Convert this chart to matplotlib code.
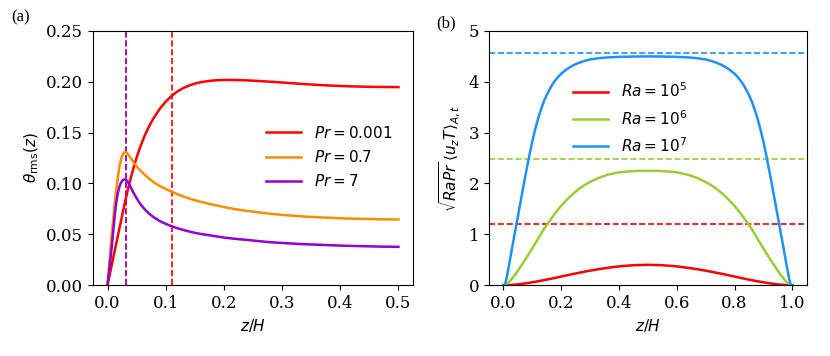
import matplotlib
matplotlib.use("Agg")
import matplotlib.pyplot as plt

# (a) theta_rms(z) for three Prandtl numbers
z_red = [0, .005, .01, .015, .02, .025, .03, .035, .04, .045, .05, .055, .06,
         .065, .07, .075, .08, .09, .10, .11, .12, .13, .14, .15, .16, .17,
         .18, .19, .20, .22, .24, .26, .28, .30, .32, .34, .36, .38, .40, .42,
         .44, .46, .48, .50]
th_pr0001 = [0, 0.0137, 0.0274, 0.041, 0.0545, 0.068, 0.0815, 0.094, 0.1055,
             0.116, 0.1255, 0.134, 0.1415, 0.1485, 0.1545, 0.16, 0.165, 0.1735,
             0.1805, 0.186, 0.1905, 0.1938, 0.1963, 0.1982, 0.1996, 0.2005,
             0.2012, 0.2016, 0.2018, 0.2018, 0.2014, 0.2008, 0.2001, 0.1993,
             0.1985, 0.1977, 0.197, 0.1964, 0.1959, 0.1955, 0.1952, 0.195,
             0.1949, 0.1948]

z_pk = [0, .0025, .005, .0075, .01, .0125, .015, .0175, .02, .0225, .025,
        .0275, .03, .0325, .035, .0375, .04, .045, .05, .055, .06, .065, .07,
        .08, .09, .10, .11, .12, .13, .14, .15, .16, .18, .20, .22, .24, .26,
        .28, .30, .33, .36, .40, .44, .47, .50]
th_pr07 = [0, 0.018, 0.035, 0.051, 0.066, 0.081, 0.094, 0.105, 0.115, 0.122,
           0.127, 0.130, 0.131, 0.1305, 0.129, 0.127, 0.125, 0.1205, 0.1167,
           0.1135, 0.111, 0.108, 0.1055, 0.101, 0.0975, 0.0945, 0.092, 0.0895,
           0.0873, 0.0853, 0.0836, 0.082, 0.0793, 0.0768, 0.0747, 0.073,
           0.0715, 0.0702, 0.0691, 0.0678, 0.0668, 0.0658, 0.0651, 0.0648,
           0.0646]
th_pr7 = [0, 0.012, 0.025, 0.039, 0.054, 0.069, 0.081, 0.09, 0.096, 0.1,
          0.1025, 0.1038, 0.104, 0.1032, 0.1015, 0.099, 0.0962, 0.0905, 0.0855,
          0.081, 0.0772, 0.074, 0.071, 0.0665, 0.063, 0.0603, 0.058, 0.056,
          0.0543, 0.0528, 0.0515, 0.0504, 0.0486, 0.0468, 0.0455, 0.0445,
          0.0433, 0.0422, 0.0415, 0.0405, 0.0398, 0.0389, 0.0383, 0.0379,
          0.0377]

# boundary layer thicknesses (vertical dashed)
delta_pr0001 = 0.11
delta_pr07 = 0.032
delta_pr7 = 0.031

# (b) convective flux profiles
z_b = [0, 0.005, 0.01, 0.015, 0.02, 0.03, 0.04, 0.05, 0.06, 0.07, 0.08, 0.09,
       0.10, 0.11, 0.12, 0.13, 0.14, 0.15, 0.16, 0.17, 0.18, 0.19, 0.20, 0.22,
       0.24, 0.26, 0.28, 0.30, 0.33, 0.36, 0.40, 0.45, 0.50,
       0.55, 0.60, 0.64, 0.67, 0.70, 0.72, 0.74, 0.76, 0.78, 0.80, 0.81, 0.82,
       0.83, 0.84, 0.85, 0.86, 0.87, 0.88, 0.89, 0.90, 0.91, 0.92, 0.93, 0.94,
       0.95, 0.96, 0.97, 0.98, 0.985, 0.99, 0.995, 1.0]
flux_ra5 = [0, 0, 0.001, 0.002, 0.003, 0.006, 0.01, 0.015, 0.022, 0.03, 0.038,
            0.047, 0.056, 0.066, 0.076, 0.087, 0.098, 0.109, 0.12, 0.132,
            0.145, 0.157, 0.17, 0.194, 0.218, 0.241, 0.264, 0.285, 0.315, 0.34,
            0.37, 0.392, 0.40,
            0.392, 0.37, 0.34, 0.315, 0.285, 0.264, 0.241, 0.218, 0.194, 0.17,
            0.157, 0.145, 0.132, 0.12, 0.109, 0.098, 0.087, 0.076, 0.066,
            0.056, 0.047, 0.038, 0.03, 0.022, 0.015, 0.01, 0.006, 0.003, 0.002,
            0.001, 0, 0]
flux_ra6 = [0, 0, 0.02, 0.04, 0.06, 0.13, 0.20, 0.28, 0.37, 0.45, 0.54, 0.63,
            0.72, 0.815, 0.91, 1.005, 1.10, 1.18, 1.26, 1.34, 1.42, 1.49, 1.56,
            1.68, 1.79, 1.885, 1.965, 2.03, 2.11, 2.17, 2.22, 2.245, 2.25,
            2.245, 2.22, 2.17, 2.11, 2.03, 1.965, 1.885, 1.79, 1.68, 1.56,
            1.49, 1.42, 1.34, 1.26, 1.18, 1.10, 1.005, 0.91, 0.815, 0.72, 0.63,
            0.54, 0.45, 0.37, 0.28, 0.20, 0.13, 0.06, 0.04, 0.02, 0, 0]
flux_ra7 = [0, 0, 0.1, 0.25, 0.4, 0.72, 1.03, 1.34, 1.65, 1.96, 2.26, 2.55,
            2.82, 3.06, 3.27, 3.45, 3.61, 3.74, 3.85, 3.95, 4.03, 4.10, 4.16,
            4.25, 4.32, 4.37, 4.41, 4.44, 4.465, 4.48, 4.49, 4.497, 4.50,
            4.497, 4.49, 4.48, 4.465, 4.44, 4.41, 4.37, 4.32, 4.25, 4.16, 4.10,
            4.03, 3.95, 3.85, 3.74, 3.61, 3.45, 3.27, 3.06, 2.82, 2.55, 2.26,
            1.96, 1.65, 1.34, 1.03, 0.72, 0.4, 0.25, 0.1, 0, 0]

# Nu values (horizontal dashed)
nu_ra5 = 1.21
nu_ra6 = 2.48
nu_ra7 = 4.57

c_red = "#ff0000"
c_orange = "#ff8c00"
c_purple = "#9400d3"
c_green = "#9acd32"
c_blue = "#1e90ff"

plt.rcParams["font.family"] = ["DejaVu Serif"]
plt.rcParams["mathtext.fontset"] = "dejavusans"
plt.rcParams["font.size"] = 11
plt.rcParams["xtick.labelsize"] = 12
plt.rcParams["ytick.labelsize"] = 12

fig = plt.figure(figsize=(8.3, 3.56), dpi=100)
ax1 = fig.add_axes([0.112, 0.199, 0.3856, 0.714])
ax2 = fig.add_axes([0.589, 0.199, 0.383, 0.714])

lw = 1.8
ax1.axvline(delta_pr0001, color=c_red, ls="--", lw=1.2)
ax1.axvline(delta_pr07, color=c_orange, ls="--", lw=1.2)
ax1.axvline(delta_pr7, color=c_purple, ls="--", lw=1.2)
ax1.plot(z_red, th_pr0001, color=c_red, lw=lw, label=r"$Pr = 0.001$")
ax1.plot(z_pk, th_pr07, color=c_orange, lw=lw, label=r"$Pr = 0.7$")
ax1.plot(z_pk, th_pr7, color=c_purple, lw=lw, label=r"$Pr = 7$")
ax1.set_xlim(-0.025, 0.525)
ax1.set_ylim(0, 0.25)
ax1.set_xticks([0, 0.1, 0.2, 0.3, 0.4, 0.5])
ax1.set_yticks([0, 0.05, 0.10, 0.15, 0.20, 0.25])
ax1.set_xlabel(r"$z/H$")
ax1.set_ylabel(r"$\theta_{\rm rms}(z)$")
ax1.legend(loc="center left", bbox_to_anchor=(0.54, 0.504), frameon=False,
           borderaxespad=0, borderpad=0, handlelength=2.3,
           handletextpad=0.85, labelspacing=0.55)

ax2.axhline(nu_ra5, color=c_red, ls="--", lw=1.2)
ax2.axhline(nu_ra6, color=c_green, ls="--", lw=1.2)
ax2.axhline(nu_ra7, color=c_blue, ls="--", lw=1.2)
ax2.plot(z_b, flux_ra5, color=c_red, lw=lw, label=r"$Ra = 10^5$")
ax2.plot(z_b, flux_ra6, color=c_green, lw=lw, label=r"$Ra = 10^6$")
ax2.plot(z_b, flux_ra7, color=c_blue, lw=lw, label=r"$Ra = 10^7$")
ax2.set_xlim(-0.05, 1.05)
ax2.set_ylim(0, 5)
ax2.set_xticks([0, 0.2, 0.4, 0.6, 0.8, 1.0])
ax2.set_xlabel(r"$z/H$")
ax2.set_ylabel(r"$\sqrt{RaPr}\,\langle u_z T\rangle_{A,t}$")
ax2.legend(loc="center left", bbox_to_anchor=(0.264, 0.657), frameon=False,
           borderaxespad=0, borderpad=0, handlelength=2.3,
           handletextpad=0.85, labelspacing=0.55)

fig.text(0.014, 0.952, "(a)", family="Liberation Serif", fontsize=12,
         va="center", ha="left")
fig.text(0.525, 0.935, "(b)", family="Liberation Serif", fontsize=12,
         va="center", ha="left")

fig.savefig("out.png", dpi=100)
